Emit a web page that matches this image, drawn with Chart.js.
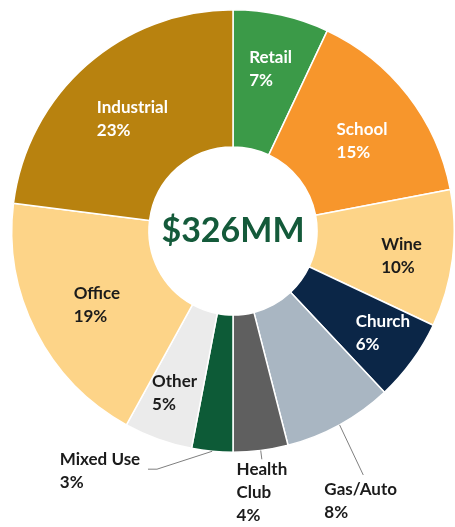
<!DOCTYPE html>
<html>
<head>
<meta charset="utf-8">
<script src="https://cdn.jsdelivr.net/npm/chart.js@4"></script>
<style>
  html, body { margin: 0; padding: 0; background: #fff; }
  #wrap { width: 455px; height: 527px; }
</style>
</head>
<body>
<div id="wrap"><canvas id="pieChart"></canvas></div>
<script>
// Chart data
const categories = ['Retail', 'School', 'Wine', 'Church', 'Gas/Auto', 'Health Club', 'Mixed Use', 'Other', 'Office', 'Industrial'];
const shares = [7, 15, 10, 6, 8, 4, 3, 5, 19, 23];
const centerTotal = '$326MM';

const sliceColors = ['#3b9a48', '#f7962c', '#fdd488', '#0b2647', '#a9b6c2', '#5f5f5f', '#0d5b37', '#ebebeb', '#fdd488', '#b8820f'];
const textColors = ['#fff', '#fff', '#1b1b1b', '#fff', '#1b1b1b', '#1b1b1b', '#1b1b1b', '#1b1b1b', '#1b1b1b', '#fff'];
const labelLines = [['Retail'], ['School'], ['Wine'], ['Church'], ['Gas/Auto'], ['Health', 'Club'], ['Mixed Use'], ['Other'], ['Office'], ['Industrial']];

// label placement: angle shift from slice middle (deg), radius as fraction of outer radius
const labelSpots = [
    {da: 0.5, r: 0.75}, {da: 3, r: 0.71}, {da: 1.2, r: 0.77}, {da: -1.7, r: 0.82},
    {da: 3.5, r: 1.35, lead: [[0.7, 1.25]]},
    {da: 0.9, r: 1.19, lead: [[0, 1.04]]},
    {da: 23.6, r: 1.24, lead: [[12.3, 1.13]], tail: -9},
    {da: 0, r: 0.78}, {da: -1.5, r: 0.70}, {da: -0.6, r: 0.68}
];

const rad = d => d * Math.PI / 180;

const sliceLabels = {
    id: 'sliceLabels',
    afterDatasetsDraw(chart) {
        const ctx = chart.ctx;
        const arcs = chart.getDatasetMeta(0).data;
        ctx.save();
        arcs.forEach((arc, i) => {
            const mid = (arc.startAngle + arc.endAngle) / 2;
            const R = arc.outerRadius;
            const spot = labelSpots[i];
            // leader line
            if (spot.lead) {
                ctx.strokeStyle = '#7f7f7f';
                ctx.lineWidth = 1;
                ctx.beginPath();
                ctx.moveTo(arc.x + Math.cos(mid) * R, arc.y + Math.sin(mid) * R);
                let px, py;
                spot.lead.forEach(p => {
                    const a = mid + rad(p[0]);
                    px = arc.x + Math.cos(a) * R * p[1];
                    py = arc.y + Math.sin(a) * R * p[1];
                    ctx.lineTo(px, py);
                });
                if (spot.tail) ctx.lineTo(px + spot.tail, py);
                ctx.stroke();
            }
            const a = mid + rad(spot.da);
            const cx = arc.x + Math.cos(a) * R * spot.r;
            const cy = arc.y + Math.sin(a) * R * spot.r;
            const lines = labelLines[i].concat([shares[i] + '%']);
            ctx.font = 'bold 17px Lato, "Open Sans", sans-serif';
            const w = Math.max(...lines.map(t => ctx.measureText(t).width));
            const lh = 23;
            ctx.fillStyle = textColors[i];
            ctx.textAlign = 'left';
            ctx.textBaseline = 'middle';
            lines.forEach((t, k) => {
                ctx.fillText(t, cx - w / 2, cy + (k - (lines.length - 1) / 2) * lh);
            });
        });
        // total in the hole
        const a0 = arcs[0];
        ctx.font = 'bold 34px Lato, "Open Sans", sans-serif';
        ctx.fillStyle = '#145a3a';
        ctx.textAlign = 'center';
        ctx.textBaseline = 'middle';
        ctx.fillText(centerTotal, a0.x, a0.y);
        ctx.restore();
    }
};

new Chart(document.getElementById('pieChart'), {
    type: 'doughnut',
    data: {
        labels: categories,
        datasets: [{
            data: shares,
            backgroundColor: sliceColors,
            borderColor: '#ffffff',
            borderWidth: 1.5
        }]
    },
    options: {
        responsive: true,
        maintainAspectRatio: false,
        animation: false,
        cutout: '38%',
        layout: { padding: { left: 11, right: 0, top: 8, bottom: 73 } },
        plugins: {
            legend: { display: false },
            tooltip: { enabled: false }
        }
    },
    plugins: [sliceLabels]
});
</script>
</body>
</html>
